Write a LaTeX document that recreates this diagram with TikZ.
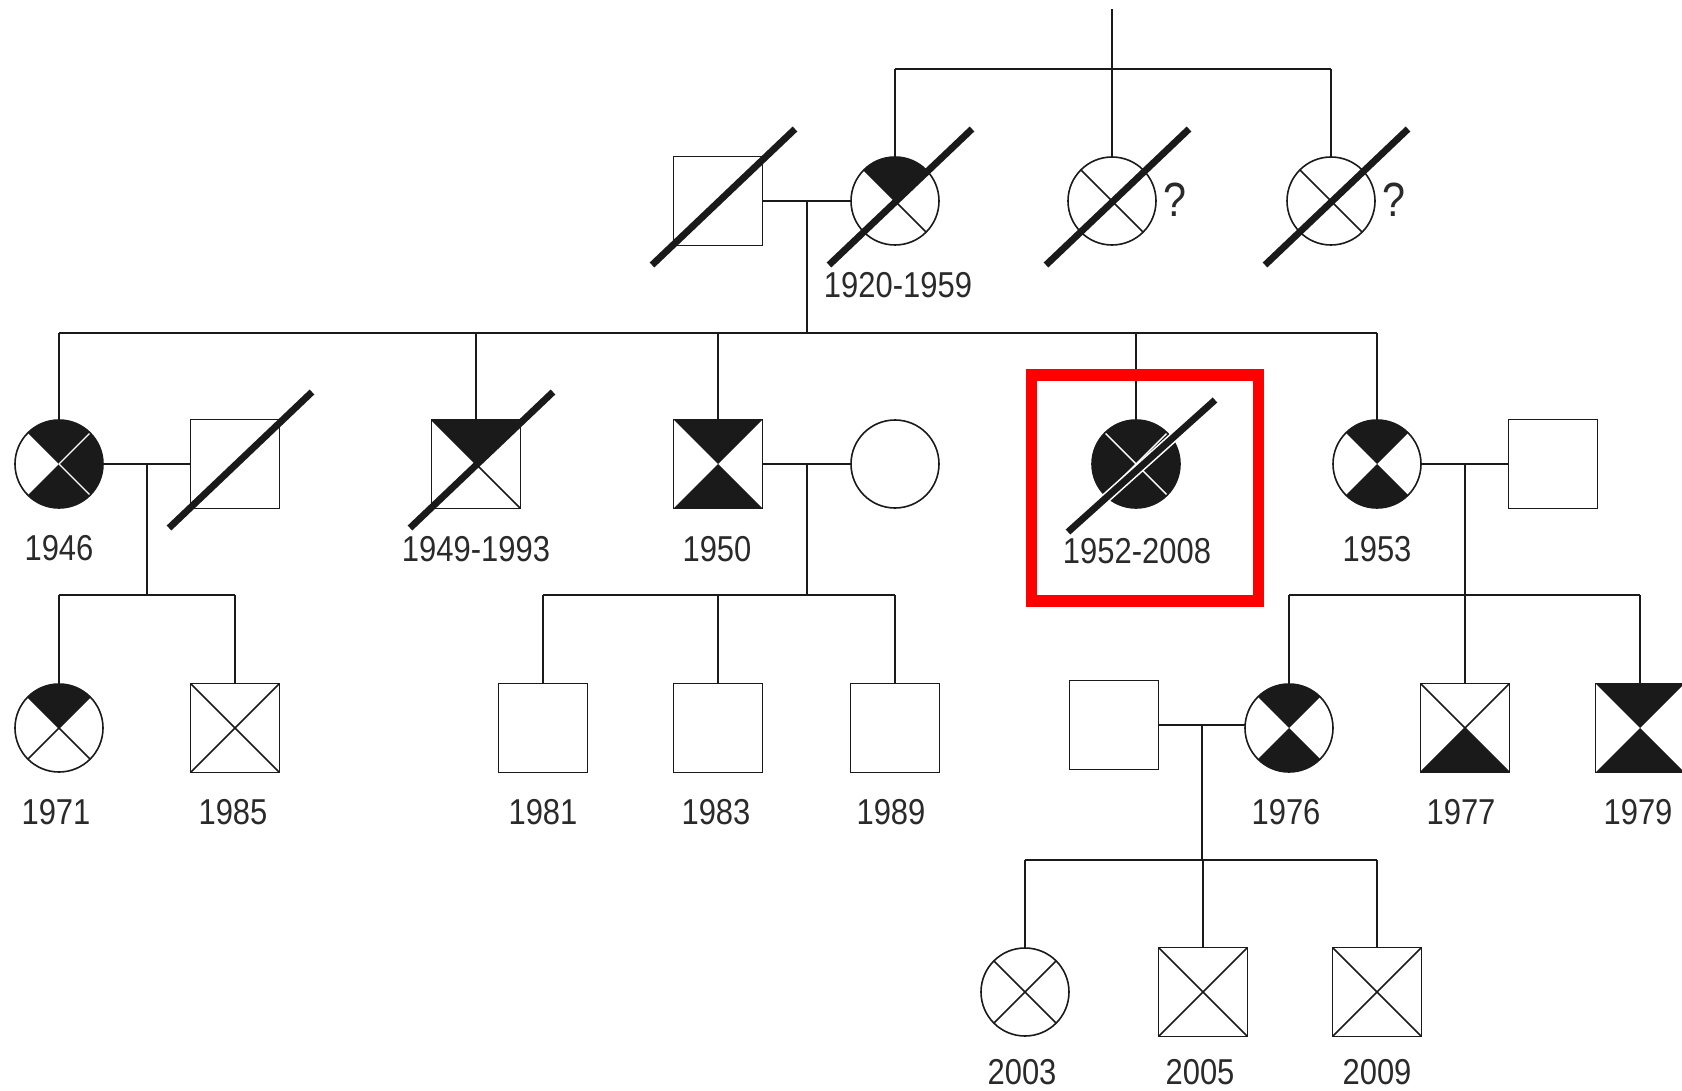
\documentclass[tikz,border=0pt]{standalone}
\usepackage{fontspec}
\setmainfont{Liberation Sans}[FakeStretch=0.86]
\usetikzlibrary{calc}
\definecolor{ink}{HTML}{1A1A1A}
\definecolor{txt}{HTML}{2A2A2A}
\newcommand\ppb{path picture bounding box}
\newcommand\qT{\fill[ink] (\ppb.center) -- (\ppb.north west) -- (\ppb.north east) -- cycle;}
\newcommand\qR{\fill[ink] (\ppb.center) -- (\ppb.north east) -- (\ppb.south east) -- cycle;}
\newcommand\qB{\fill[ink] (\ppb.center) -- (\ppb.south east) -- (\ppb.south west) -- cycle;}
\newcommand\qL{\fill[ink] (\ppb.center) -- (\ppb.south west) -- (\ppb.north west) -- cycle;}
\newcommand\xB{\draw[ink,line width=0.8pt] (\ppb.north west) -- (\ppb.south east) (\ppb.north east) -- (\ppb.south west);}
\newcommand\wNE{\draw[white,line width=0.7pt] (\ppb.center) -- (\ppb.north east);}
\newcommand\wSE{\draw[white,line width=0.7pt] (\ppb.center) -- (\ppb.south east);}
\newcommand\wNW{\draw[white,line width=0.7pt] (\ppb.center) -- (\ppb.north west);}
\newcommand\wSW{\draw[white,line width=0.7pt] (\ppb.center) -- (\ppb.south west);}
\tikzset{
  base/.style={draw=ink, line width=0.8pt, inner sep=0pt, outer sep=0pt, fill=white},
  fem/.style={base, circle, minimum size=44pt},
  mal/.style={base, rectangle, minimum size=44.5pt},
  xo/.style={path picture={\xB}},
  pT/.style={path picture={\xB\qT}},
  pB/.style={path picture={\xB\qB}},
  pTB/.style={path picture={\qT\qB}},
  pTRB/.style={path picture={\qT\qR\qB\wNE\wSE}},
  pAll/.style={path picture={\qT\qR\qB\qL\wNE\wSE\wNW\wSW}},
  conn/.style={draw=ink, line width=0.75pt},
  slashline/.style={draw=ink, line width=3.4pt},
  halo/.style={draw=white, line width=5pt},
  lab/.style={font=\fontsize{18}{20}\selectfont, text=txt, inner sep=0pt},
  qm/.style={font=\fontsize{24}{26}\selectfont, text=txt, inner sep=0pt},
  hlbox/.style={draw=red, line width=5.65pt, minimum width=113.2pt, minimum height=113pt, inner sep=0pt}
}
\begin{document}
\begin{tikzpicture}[x=0.5pt,y=-0.5pt]
\useasboundingbox (0,0) rectangle (1682,1091);
% ---------- Generation I ----------
\node[mal] (g1m) at (718,201) {};
\node[fem,pT] (g1f) at (895,201) {};
\node[fem,xo] (q1) at (1112,201) {};
\node[fem,xo] (q2) at (1331,201) {};
\node[qm] (qm1) at (1175,200) {?};
\node[qm] (qm2) at (1394,200) {?};
\coordinate (top) at (1112,9);
\coordinate (s0) at (1112,69);
\draw[conn] (top) -- (s0);
\draw[conn] (g1f.north |- s0) -- (q2.north |- s0);
\draw[conn] (g1f.north) -- (g1f.north |- s0);
\draw[conn] (q1.north) -- (s0);
\draw[conn] (q2.north) -- (q2.north |- s0);
\draw[conn] (g1m.east) -- (g1f.west);
\coordinate (m1) at ($(g1m.east)!0.5!(g1f.west)$);
\coordinate (s1) at ($(m1)+(0,132)$);
\draw[conn] (m1) -- (s1);
\node[lab] (l1920) at ($(g1f)+(3,84)$) {1920-1959};
% ---------- Generation II ----------
\node[fem,pTRB] (a) at (59,464) {};
\node[mal] (as) at (235,464) {};
\node[mal,pT] (b) at (476,464) {};
\node[mal,pTB] (c) at (718,464) {};
\node[fem] (cs) at (895,464) {};
\node[fem,pAll] (d) at (1136,464) {};
\node[fem,pTB] (e) at (1377,464) {};
\node[mal] (es) at (1553,464) {};
\draw[conn] (a.north |- s1) -- (e.north |- s1);
\foreach \n in {a,b,c,d,e} \draw[conn] (\n.north) -- (\n.north |- s1);
\node[lab] (l1946) at ($(a)+(0,84)$) {1946};
\node[lab] (l1949) at ($(b)+(0,85)$) {1949-1993};
\node[lab] (l1950) at ($(c)+(-1,85)$) {1950};
\node[lab] (l1952) at ($(d)+(1,87)$) {1952-2008};
\node[lab] (l1953) at ($(e)+(0,85)$) {1953};
% couples of generation II
\draw[conn] (a.east) -- (as.west);
\coordinate (m2a) at ($(a.east)!0.5!(as.west)$);
\coordinate (s2a) at ($(m2a)+(0,131)$);
\draw[conn] (m2a) -- (s2a);
\draw[conn] (c.east) -- (cs.west);
\coordinate (m2c) at ($(c.east)!0.5!(cs.west)$);
\coordinate (s2c) at ($(m2c)+(0,131)$);
\draw[conn] (m2c) -- (s2c);
\draw[conn] (e.east) -- (es.west);
\coordinate (m2e) at ($(e.east)!0.5!(es.west)$);
\coordinate (s2e) at ($(m2e)+(0,131)$);
\draw[conn] (m2e) -- (s2e);
% ---------- Generation III ----------
\node[fem,pT] (f) at (59,728) {};
\node[mal,xo] (g) at (235,728) {};
\draw[conn] (f.north |- s2a) -- (g.north |- s2a);
\foreach \n in {f,g} \draw[conn] (\n.north) -- (\n.north |- s2a);
\node[lab] (l1971) at ($(f)+(-3,84)$) {1971};
\node[lab] (l1985) at ($(g)+(-2,84)$) {1985};
\node[mal] (h) at (543,728) {};
\node[mal] (i) at (718,728) {};
\node[mal] (j) at (895,728) {};
\draw[conn] (h.north |- s2c) -- (j.north |- s2c);
\foreach \n in {h,i,j} \draw[conn] (\n.north) -- (\n.north |- s2c);
\node[lab] (l1981) at ($(h)+(0,84)$) {1981};
\node[lab] (l1983) at ($(i)+(-2,84)$) {1983};
\node[lab] (l1989) at ($(j)+(-4,84)$) {1989};
\node[mal] (ks) at (1114,725) {};
\node[fem,pTB] (k) at (1289,728) {};
\node[mal,pB] (l) at (1465,728) {};
\node[mal,pTB] (n) at (1640,728) {};
\draw[conn] (k.north |- s2e) -- (n.north |- s2e);
\foreach \n in {k,l,n} \draw[conn] (\n.north) -- (\n.north |- s2e);
\node[lab] (l1976) at ($(k)+(-3,84)$) {1976};
\node[lab] (l1977) at ($(l)+(-4,84)$) {1977};
\node[lab] (l1979) at ($(n)+(-2,84)$) {1979};
\draw[conn] (ks.east) -- (ks.east -| k.west);
\coordinate (m3) at ($(ks.east)!0.5!(ks.east -| k.west)$);
\coordinate (s3) at ($(m3)+(0,135)$);
\draw[conn] (m3) -- (s3);
% ---------- Generation IV ----------
\node[fem,xo] (o) at (1025,992) {};
\node[mal,xo] (p) at (1203,992) {};
\node[mal,xo] (r) at (1377,992) {};
\draw[conn] (o.north |- s3) -- (r.north |- s3);
\foreach \n in {o,p,r} \draw[conn] (\n.north) -- (\n.north |- s3);
\node[lab] (l2003) at ($(o)+(-3,80)$) {2003};
\node[lab] (l2005) at ($(p)+(-3,80)$) {2005};
\node[lab] (l2009) at ($(r)+(0,80)$) {2009};
% ---------- deceased slashes ----------
\foreach \n in {g1m,g1f,q1,q2,as,b}
  \draw[slashline] ($(\n)+(-66,64)$) -- ($(\n)+(77,-72)$);
\draw[halo] ($(d)+(-68,68)$) -- ($(d)+(79,-64)$);
\draw[slashline] ($(d)+(-68,68)$) -- ($(d)+(79,-64)$);
% ---------- highlight ----------
\node[hlbox] (hl) at (1145,488) {};
\end{tikzpicture}
\end{document}
